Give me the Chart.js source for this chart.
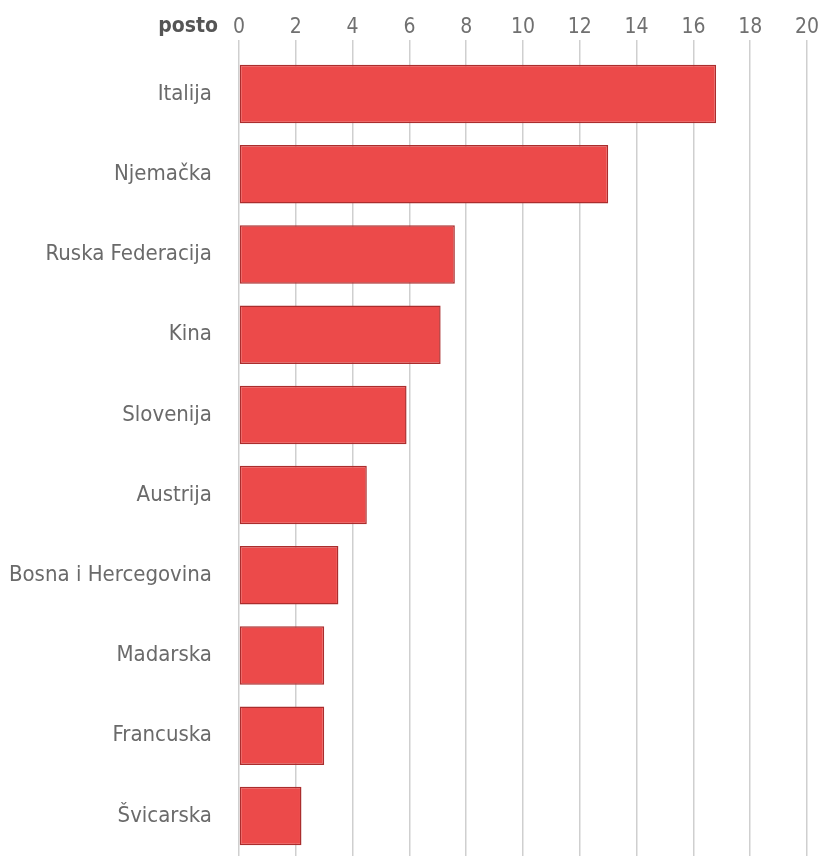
<!DOCTYPE html>
<html>
<head>
<meta charset="utf-8">
<script src="https://cdn.jsdelivr.net/npm/chart.js@4"></script>
<style>
    body { margin: 0; background: #fff; }
</style>
</head>
<body>
<canvas id="postoChart" width="832" height="856"></canvas>
<script>
// zemlje i udio (posto)
const zemlje = ['Italija', 'Njemačka', 'Ruska Federacija', 'Kina', 'Slovenija', 'Austrija',
    'Bosna i Hercegovina', 'Madarska', 'Francuska', 'Švicarska'];
const posto = [16.8, 13.0, 7.6, 7.1, 5.9, 4.5, 3.5, 3.0, 3.0, 2.2];
const osTitle = 'posto';
const osMax = 20;
const osKorak = 2;

const fontFamily = "'DejaVu Sans Condensed', 'Liberation Sans Narrow', sans-serif";

// crta "posto" lijevo od oznake 0 na gornjoj osi
const postoLabel = {
    id: 'postoLabel',
    afterDraw(chart) {
        const ctx = chart.ctx;
        ctx.save();
        ctx.font = "bold 21px " + fontFamily;
        ctx.fillStyle = '#555';
        ctx.textAlign = 'right';
        ctx.textBaseline = 'middle';
        ctx.fillText(osTitle, chart.chartArea.left - 21, 27);
        ctx.restore();
    }
};

let postoChartElement = document.getElementById('postoChart');
const postoChart = new Chart(postoChartElement, {
    type: 'bar',
    data: {
        labels: zemlje,
        datasets: [{
            label: osTitle,
            data: posto,
            backgroundColor: 'rgba(236, 74, 74, 1)',
            borderColor: 'rgba(170, 45, 45, 1)',
            borderWidth: 1.5,
            borderSkipped: false,
            categoryPercentage: 1,
            barPercentage: 0.73
        }]
    },
    options: {
        indexAxis: 'y',
        responsive: false,
        maintainAspectRatio: false,
        animation: false,
        layout: { padding: { top: 0, right: 25, bottom: 0, left: 0 } },
        plugins: {
            legend: { display: false },
            tooltip: { enabled: false }
        },
        scales: {
            x: {
                position: 'top',
                min: 0,
                max: osMax,
                border: { display: false },
                grid: {
                    color: '#cfcfcf',
                    lineWidth: 1.5,
                    drawTicks: true,
                    tickLength: 14
                },
                ticks: {
                    stepSize: osKorak,
                    color: '#707070',
                    padding: 0,
                    font: { family: fontFamily, size: 21 }
                },
                afterFit: (scale) => {
                    scale.height = 54;
                    scale.paddingLeft = 0;
                }
            },
            y: {
                border: { display: false },
                grid: { display: false, drawTicks: true, tickLength: 27 },
                ticks: {
                    color: '#6a6a6a',
                    padding: 0,
                    font: { family: fontFamily, size: 22 }
                },
                afterFit: (scale) => {
                    scale.width = 239;
                    scale.paddingTop = 0;
                    scale.paddingBottom = 0;
                }
            }
        }
    },
    plugins: [postoLabel]
});
</script>
</body>
</html>
